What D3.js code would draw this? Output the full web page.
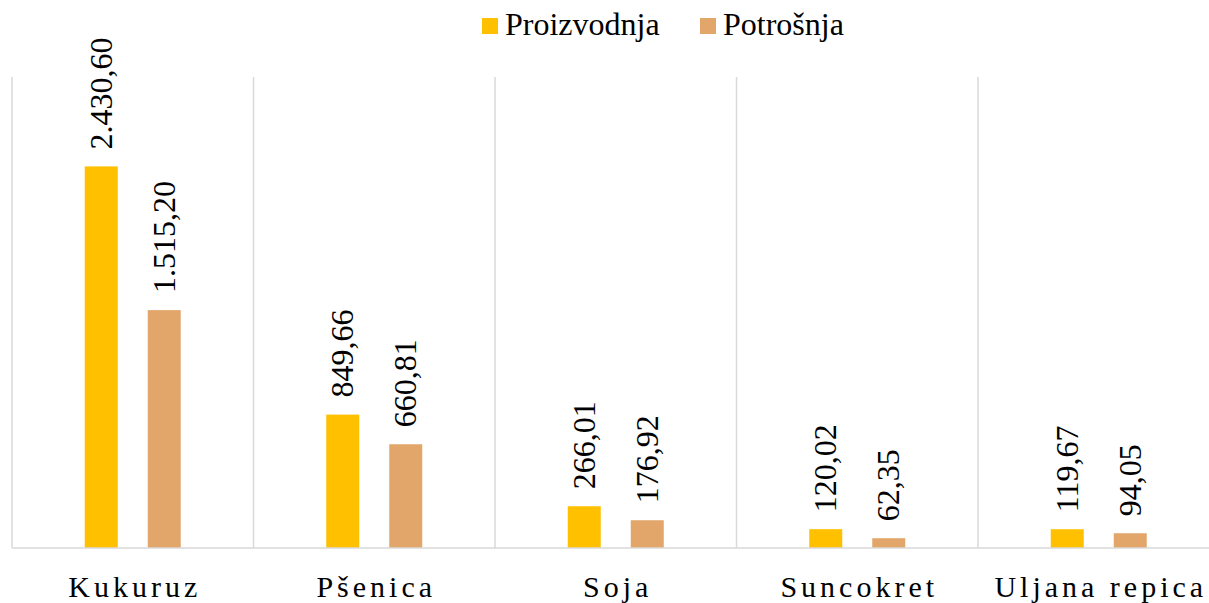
<!DOCTYPE html>
<html>
<head>
<meta charset="utf-8">
<script src="https://cdn.jsdelivr.net/npm/d3@7"></script>
</head>
<body style="margin:0">
<svg width="1209" height="603"></svg>
<script>
  const categories = ["Kukuruz", "Pšenica", "Soja", "Suncokret", "Uljana repica"];
  const seriesNames = ["Proizvodnja", "Potrošnja"];
  const proizvodnja = [2430.60, 849.66, 266.01, 120.02, 119.67];
  const potrosnja = [1515.20, 660.81, 176.92, 62.35, 94.05];
  const colors = ["#ffc000", "#e2a66b"];

  const svg = d3.select("svg");
  const fmt = d3.formatLocale({ decimal: ",", thousands: ".", grouping: [3], currency: ["", ""] }).format(",.2f");

  const plotLeft = 12, plotRight = 1219.5, plotTop = 77, plotBottom = 548;

  const x0 = d3.scaleBand().domain(categories).range([plotLeft, plotRight]);
  const bw = x0.bandwidth();
  const x1 = d3.scaleBand().domain(seriesNames)
    .range([bw / 2 - 48, bw / 2 + 48])
    .paddingInner(30 / 63);
  const y = d3.scaleLinear().domain([0, 3000]).range([plotBottom, plotTop]);

  // vertical separators between categories
  svg.append("g")
    .selectAll("line")
    .data(categories)
    .join("line")
    .attr("x1", d => x0(d))
    .attr("x2", d => x0(d))
    .attr("y1", y(3000))
    .attr("y2", y(0))
    .attr("stroke", "#d9d9d9")
    .attr("stroke-width", 1.5);

  const cellData = categories.flatMap((c, i) => [
    { cat: c, name: seriesNames[0], v: proizvodnja[i], j: 0 },
    { cat: c, name: seriesNames[1], v: potrosnja[i], j: 1 }
  ]);

  svg.append("g")
    .selectAll("rect")
    .data(cellData)
    .join("rect")
    .attr("x", d => x0(d.cat) + x1(d.name))
    .attr("y", d => y(d.v))
    .attr("width", x1.bandwidth())
    .attr("height", d => y(0) - y(d.v))
    .attr("fill", d => colors[d.j]);

  // baseline
  svg.append("line")
    .attr("x1", plotLeft)
    .attr("x2", plotRight)
    .attr("y1", y(0))
    .attr("y2", y(0))
    .attr("stroke", "#d9d9d9")
    .attr("stroke-width", 1.5);

  // value labels
  svg.selectAll("text.val")
    .data(cellData)
    .join("text")
    .attr("class", "val")
    .attr("transform", d => `translate(${x0(d.cat) + x1(d.name) + x1.bandwidth() / 2},${y(d.v) - 17}) rotate(-90)`)
    .attr("dy", "0.33em")
    .attr("font-family", "Times New Roman")
    .attr("font-size", 32)
    .text(d => fmt(d.v));

  // category labels
  svg.selectAll("text.cat")
    .data(categories)
    .join("text")
    .attr("class", "cat")
    .attr("x", d => x0(d) + bw / 2 + 2)
    .attr("y", 597)
    .attr("text-anchor", "middle")
    .attr("font-family", "Times New Roman")
    .attr("font-size", 30)
    .attr("letter-spacing", 4)
    .text(d => d);

  // legend
  const legendX = [482, 700];
  svg.selectAll("rect.leg")
    .data(seriesNames)
    .join("rect")
    .attr("class", "leg")
    .attr("x", (d, i) => legendX[i]).attr("y", 18)
    .attr("width", 16).attr("height", 16)
    .attr("fill", (d, i) => colors[i]);
  svg.selectAll("text.leg")
    .data(seriesNames)
    .join("text")
    .attr("class", "leg")
    .attr("x", (d, i) => legendX[i] + 23).attr("y", 35)
    .attr("font-family", "Times New Roman")
    .attr("font-size", 32)
    .text(d => d);
</script>
</body>
</html>
